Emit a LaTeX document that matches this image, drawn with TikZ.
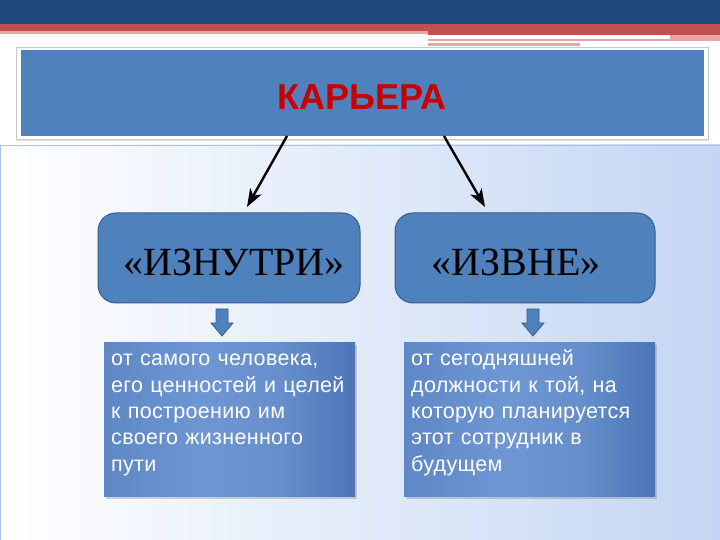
\documentclass[tikz,border=0pt]{standalone}
\usepackage{fontspec}
\setmainfont{Liberation Serif}
\newfontfamily\arialf{Liberation Sans}
\newfontfamily\descf{Liberation Sans}[LetterSpace=1.5,WordSpace=1.3]
\usetikzlibrary{shadows,arrows.meta}
\definecolor{darkband}{RGB}{31,72,124}
\definecolor{redband}{RGB}{192,80,77}
\definecolor{pinkband}{RGB}{226,166,165}
\definecolor{accent}{RGB}{79,129,189}
\definecolor{accentdark}{RGB}{56,93,138}
\definecolor{panelblue}{RGB}{196,214,243}
\definecolor{titlered}{RGB}{200,0,0}
\pgfdeclarehorizontalshading{descshade}{100bp}{
  rgb(0bp)=(0.36,0.52,0.77);
  rgb(25bp)=(0.37,0.53,0.78);
  rgb(45bp)=(0.43,0.59,0.83);
  rgb(60bp)=(0.40,0.56,0.80);
  rgb(75bp)=(0.30,0.46,0.72);
  rgb(100bp)=(0.24,0.39,0.65)}
\tikzset{
  roundbox/.style={draw=accentdark, line width=1pt, fill=accent, rounded corners=18pt, minimum width=262pt, minimum height=90pt, inner sep=0pt},
  boxlabel/.style={font=\fontsize{40}{46}\selectfont},
  descbox/.style={draw=none, shading=descshade, minimum width=251pt, minimum height=154pt, inner sep=0pt, drop shadow={opacity=0.35, shadow xshift=2pt, shadow yshift=-2pt}},
  desctext/.style={text=white, font=\descf\fontsize{21.5}{26.3}\selectfont, align=left, text width=245pt, inner sep=0pt},
  blockarrow/.style={fill=accent, draw=accentdark, line width=0.8pt},
  link/.style={-{Stealth[length=18pt,width=13pt,inset=5pt]}, line width=2.4pt, black}
}
\begin{document}
\begin{tikzpicture}[x=1pt,y=1pt]
\useasboundingbox (0,0) rectangle (720,540);
% background panel
\shade[left color=white, right color=panelblue, draw={rgb,255:red,170;green,195;blue,230}] (0,0) rectangle (720,395);
% top bands
\fill[darkband] (0,516) rectangle (720,540);
\fill[redband] (0,509) rectangle (720,516);
\fill[redband] (428,505) rectangle (720,509);
\fill[pinkband] (0,506) rectangle (428,509);
\fill[pinkband] (428,499) rectangle (670,501);
\fill[pinkband] (428,494) rectangle (580,497);
\fill[pinkband] (670,499) rectangle (720,505);
% title box
\node[fill=white, draw={rgb,255:red,200;green,200;blue,205}, line width=0.6pt, minimum width=692pt, minimum height=92pt, inner sep=0pt,
  drop shadow={opacity=0.25, shadow xshift=1pt, shadow yshift=-2pt}] (titleframe) at (362,447) {};
\node[fill=accent, minimum width=683pt, minimum height=86pt, inner sep=0pt] (title) at (362,447) {};
\node[font=\arialf\bfseries\fontsize{36}{40}\selectfont, text=titlered] (titletext) at (362,443) {КАРЬЕРА};
% coordinates for arrow starts
\coordinate (s1) at (287,404);
\coordinate (s2) at (444,404);
% rounded boxes
\node[roundbox] (inner) at (229,282) {};
\node[boxlabel] (innert) at (234,278) {«ИЗНУТРИ»};
\node[roundbox, minimum width=260pt] (outer) at (525,282) {};
\node[boxlabel] (outert) at (516,278) {«ИЗВНЕ»};
\draw[link] (s1) -- (247,333);
\draw[link] (s2) -- (485,333);
% block arrows
\foreach \cx/\nm in {222/ba1, 533/ba2} {
  \draw[blockarrow] (\cx-6,231) -- (\cx+6,231) -- (\cx+6,217) -- (\cx+11,217) -- (\cx,204) -- (\cx-11,217) -- (\cx-6,217) -- cycle;
}
% description boxes
\node[descbox] (d1) at (229.5,120) {};
\node[desctext, anchor=base west] (d1t) at (111,174) {от самого человека,\\его ценностей и целей\\к построению им\\своего жизненного\\пути};
\node[descbox] (d2) at (529.5,120) {};
\node[desctext, anchor=base west] (d2t) at (411,174) {от сегодняшней\\должности к той, на\\которую планируется\\этот сотрудник в\\будущем};
\end{tikzpicture}
\end{document}
